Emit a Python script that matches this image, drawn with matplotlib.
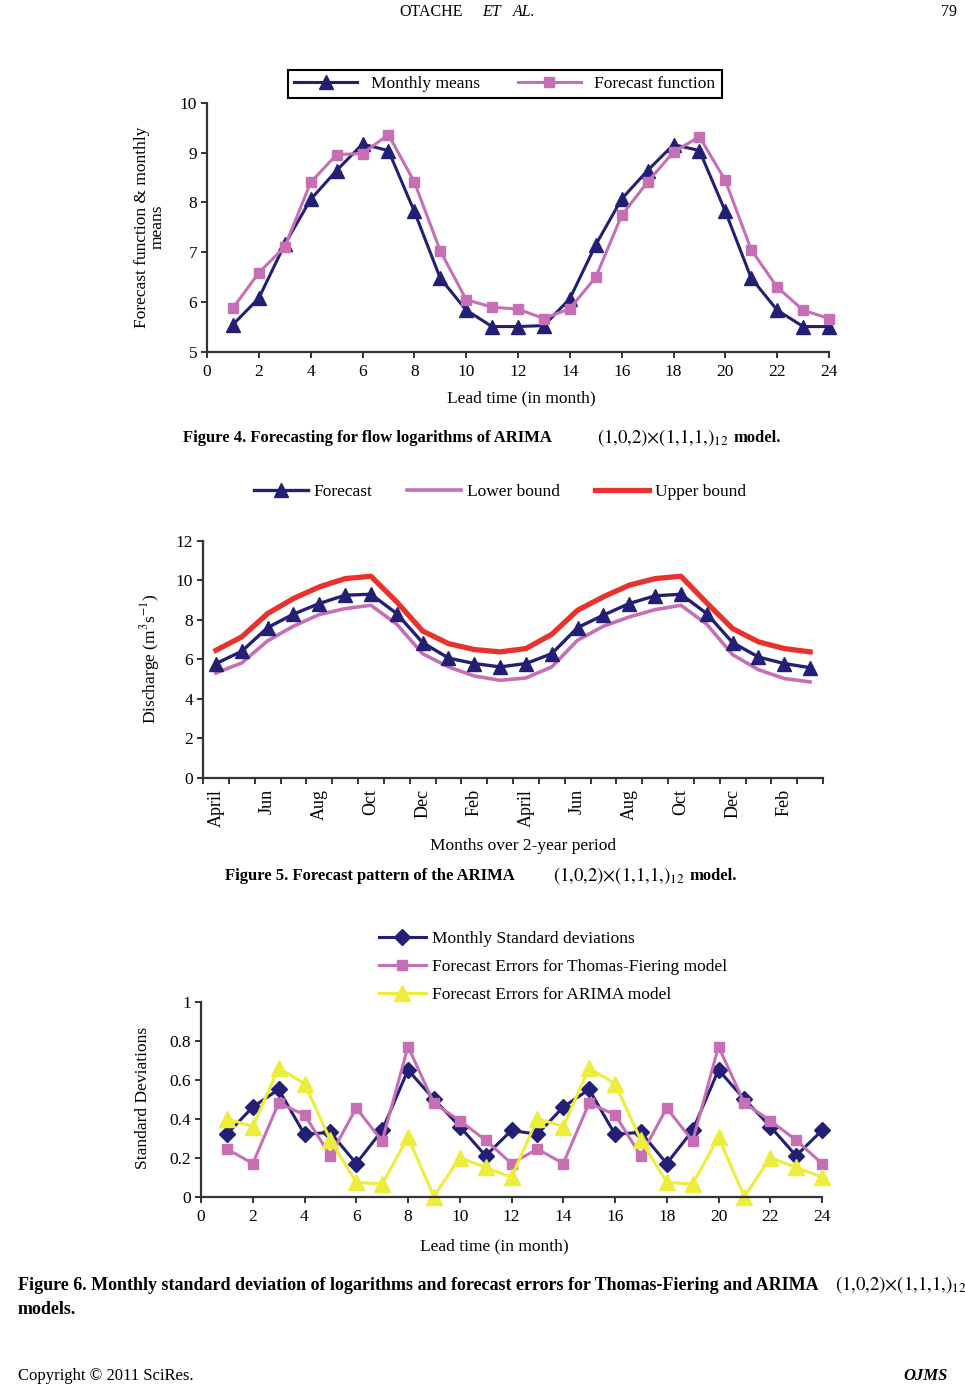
import matplotlib
matplotlib.use('Agg')
import matplotlib.pyplot as plt

plt.rcParams['font.family'] = 'Liberation Serif'
plt.rcParams['mathtext.fontset'] = 'stix'

# ============================================
# Data
# ============================================
lead = list(range(1, 25))

# Figure 4
monthly_means = [5.55, 6.08, 7.16, 8.06, 8.64, 9.17, 9.04, 7.82, 6.48, 5.84, 5.51, 5.51,
                 5.53, 6.07, 7.15, 8.07, 8.64, 9.16, 9.04, 7.82, 6.48, 5.84, 5.51, 5.51]
forecast_func = [5.88, 6.59, 7.11, 8.40, 8.96, 8.98, 9.36, 8.41, 7.03, 6.05, 5.90, 5.86,
                 5.67, 5.87, 6.50, 7.74, 8.41, 9.01, 9.32, 8.44, 7.05, 6.30, 5.84, 5.67]

# Figure 5
months = ['April', 'May', 'Jun', 'Jul', 'Aug', 'Sep', 'Oct', 'Nov', 'Dec', 'Jan', 'Feb', 'Mar'] * 2
forecast = [5.78, 6.40, 7.60, 8.28, 8.82, 9.24, 9.29, 8.31, 6.84, 6.06, 5.78, 5.61,
            5.78, 6.28, 7.60, 8.23, 8.82, 9.21, 9.29, 8.31, 6.84, 6.11, 5.78, 5.57]
lower = [5.30, 5.81, 6.93, 7.67, 8.26, 8.56, 8.73, 7.77, 6.28, 5.61, 5.15, 4.93,
         5.05, 5.61, 6.96, 7.67, 8.14, 8.51, 8.73, 7.77, 6.23, 5.47, 5.02, 4.85]
upper = [6.45, 7.13, 8.31, 9.07, 9.66, 10.08, 10.20, 8.90, 7.43, 6.79, 6.49, 6.37,
         6.54, 7.26, 8.48, 9.16, 9.75, 10.08, 10.20, 8.85, 7.55, 6.88, 6.54, 6.37]

# Figure 6
monthly_sd = [0.32, 0.46, 0.55, 0.32, 0.33, 0.17, 0.34, 0.65, 0.50, 0.36, 0.21, 0.34,
              0.32, 0.46, 0.55, 0.32, 0.33, 0.17, 0.34, 0.65, 0.50, 0.36, 0.21, 0.34]
tf_errors = [0.245, 0.17, 0.48, 0.42, 0.21, 0.455, 0.285, 0.77, 0.48, 0.39, 0.29, 0.17,
             0.245, 0.17, 0.48, 0.42, 0.21, 0.455, 0.285, 0.77, 0.48, 0.39, 0.29, 0.17]
arima_errors = [0.40, 0.36, 0.66, 0.58, 0.29, 0.074, 0.065, 0.305, 0.0, 0.20, 0.15, 0.10,
                0.40, 0.36, 0.66, 0.58, 0.29, 0.074, 0.065, 0.305, 0.0, 0.20, 0.15, 0.10]
sd_ticks = ['0', '0.2', '0.4', '0.6', '0.8', '1']

W, H = 965, 1386
fig = plt.figure(figsize=(W / 100, H / 100), dpi=100)

NAVY = '#231f75'
PINK = '#c66fb5'
RED = '#e8322c'
YELLOW = '#eded3c'
AXC = '#333333'
ARIMA = r'$(1{,}0{,}2){\times}(1{,}1{,}1{,})_{12}$'


def box(l, t, r, b):
    return [l / W, 1 - b / H, (r - l) / W, (b - t) / H]


def put(x, y, s, **kw):
    kw.setdefault('va', 'center')
    return fig.text(x / W, 1 - y / H, s, **kw)


def style(ax):
    for s in ['top', 'right']:
        ax.spines[s].set_visible(False)
    for s in ['left', 'bottom']:
        ax.spines[s].set_linewidth(1.6)
        ax.spines[s].set_color(AXC)
    ax.tick_params(direction='out', length=4, width=1.4, color=AXC, labelsize=12.5, pad=3)


# header
put(431, 12, 'OTACHE', fontsize=11.5, ha='center')
put(492, 12, 'ET', fontsize=11.5, ha='center', style='italic')
put(524, 12, 'AL.', fontsize=11.5, ha='center', style='italic')
put(957, 12, '79', fontsize=11.5, ha='right')

# ============================================
# Figure 4
# ============================================
ax1 = fig.add_axes(box(207, 102.7, 829, 352))
ax1.plot(lead, monthly_means, color=NAVY, lw=2.2, marker='^', ms=10, label='Monthly means', clip_on=False)
ax1.plot(lead, forecast_func, color=PINK, lw=2.2, marker='s', ms=7, label='Forecast function', clip_on=False)
ax1.set_xlim(0, 24)
ax1.set_ylim(5, 10)
ax1.set_xticks(range(0, 25, 2))
ax1.set_yticks(range(5, 11))
style(ax1)
ax1.tick_params(axis='x', pad=5)
put(521, 398, 'Lead time (in month)', fontsize=12.5, ha='center')
put(150, 227, 'Forecast function & monthly\nmeans', fontsize=12.5, ha='center', rotation=90,
    multialignment='center', linespacing=1.0)
leg = ax1.legend(loc='center', bbox_to_anchor=(505 / W, 1 - 84 / H), bbox_transform=fig.transFigure,
                 ncol=2, frameon=True, fancybox=False, edgecolor='black', framealpha=1,
                 handlelength=3.6, columnspacing=2.2, fontsize=12.5, borderpad=0.35)
leg.get_frame().set_linewidth(1.5)

put(183, 438, 'Figure 4. Forecasting for flow logarithms of ARIMA', fontsize=12, weight='bold')
put(597, 438, ARIMA, fontsize=13.5)
put(733, 438, 'model.', fontsize=12, weight='bold')

# ============================================
# Figure 5
# ============================================
ax2 = fig.add_axes(box(203, 540.7, 823, 777.7))
pos = [i + 0.5 for i in range(len(months))]
ax2.plot(pos, forecast, color=NAVY, lw=2.4, marker='^', ms=10, label='Forecast', zorder=3)
ax2.plot(pos, lower, color=PINK, lw=2.6, label='Lower bound')
ax2.plot(pos, upper, color=RED, lw=3.8, label='Upper bound')
ax2.set_xlim(0, 24)
ax2.set_ylim(0, 12)
ax2.set_yticks(range(0, 13, 2))
ax2.set_xticks(range(0, 25))
ax2.set_xticklabels([])
ax2.set_xticks(pos[::2], minor=True)
ax2.set_xticklabels(months[::2], minor=True, rotation=90, va='top', ha='center')
style(ax2)
ax2.tick_params(axis='x', which='minor', length=0, pad=8, labelsize=13)
put(523, 846, 'Months over 2-year period', fontsize=12.5, ha='center')
put(150, 659, 'Discharge (m$^{3}$s$^{-1}$)', fontsize=12.5, ha='center', rotation=90)
ax2.legend(loc='center', bbox_to_anchor=(500 / W, 1 - 492 / H), bbox_transform=fig.transFigure,
           ncol=3, frameon=False, handlelength=3.1, handletextpad=0.35, columnspacing=2.0, fontsize=12.5)

put(225, 876, 'Figure 5. Forecast pattern of the ARIMA', fontsize=12, weight='bold')
put(553, 876, ARIMA, fontsize=13.5)
put(690, 876, 'model.', fontsize=12, weight='bold')

# ============================================
# Figure 6
# ============================================
ax3 = fig.add_axes(box(201, 1001.7, 822, 1196.7))
ax3.plot(lead, monthly_sd, color=NAVY, lw=2.2, marker='D', ms=8, label='Monthly Standard deviations', clip_on=False)
ax3.plot(lead, tf_errors, color=PINK, lw=2.2, marker='s', ms=7, label='Forecast Errors for Thomas-Fiering model', clip_on=False)
ax3.plot(lead, arima_errors, color=YELLOW, lw=2.2, marker='^', ms=11, label='Forecast Errors for ARIMA model', clip_on=False)
ax3.set_xlim(0, 24)
ax3.set_ylim(0, 1)
ax3.set_xticks(range(0, 25, 2))
ax3.set_yticks([0, 0.2, 0.4, 0.6, 0.8, 1])
ax3.set_yticklabels(sd_ticks)
style(ax3)
ax3.tick_params(axis='x', pad=5)
put(494, 1246, 'Lead time (in month)', fontsize=12.5, ha='center')
put(143, 1098, 'Standard Deviations', fontsize=12.5, ha='center', rotation=90)
ax3.legend(loc='upper left', bbox_to_anchor=(363 / W, 1 - 915 / H), bbox_transform=fig.transFigure,
           frameon=False, handlelength=2.7, fontsize=12.5, labelspacing=0.7, handletextpad=0.4)

put(18, 1285, 'Figure 6. Monthly standard deviation of logarithms and forecast errors for Thomas-Fiering and ARIMA',
    fontsize=13, weight='bold')
put(835, 1285, ARIMA, fontsize=13.5)
put(18, 1309, 'models.', fontsize=13, weight='bold')

# footer
put(18, 1376, 'Copyright \u00a9 2011 SciRes.', fontsize=12)
put(948, 1376, 'OJMS', fontsize=12, weight='bold', style='italic', ha='right')

fig.savefig('out.png', dpi=100)
